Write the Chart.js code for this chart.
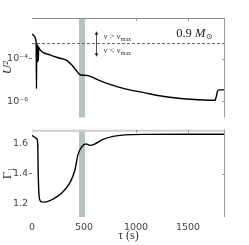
<!DOCTYPE html>
<html>
<head>
<meta charset="utf-8">
<script src="https://cdn.jsdelivr.net/npm/chart.js@4.4.1/dist/chart.umd.min.js"></script>
<style>
  body { margin: 0; background: #fff; }
  #wrap { position: relative; width: 249px; height: 245px; }
  canvas { position: absolute; left: 0; }
  #top { top: 0; }
  #bottom { top: 123px; }
</style>
</head>
<body>
<div id="wrap">
  <canvas id="top" width="249" height="124"></canvas>
  <canvas id="bottom" width="249" height="122"></canvas>
</div>
<script>
// time axis (s)
const xMax = 1856;
const xTicks = [0, 500, 1000, 1500];
const band = [452, 510]; // shaded interval

// upper panel: U^2
const tauU = [0, 19, 30, 38, 40, 43, 46, 49, 52, 55, 58, 61, 64, 67, 173, 250, 337, 385, 430, 462, 500, 538, 625, 721, 894, 1077, 1269, 1529, 1760, 1770, 1785, 1800, 1856];
const u2 = [1.45e-3, 1.17e-3, 1.0e-3, 6.9e-4, 6.0e-4, 3.8e-6, 5.0e-4, 6.6e-5, 4.5e-4, 7.0e-5, 4.0e-4, 8.0e-5, 3.5e-4, 3.1e-4, 1.5e-4, 1.1e-4, 8.1e-5, 4.9e-5, 2.6e-5, 1.74e-5, 1.65e-5, 1.58e-5, 1.05e-5, 6.9e-6, 3.8e-6, 2.5e-6, 1.66e-6, 1.23e-6, 1.1e-6, 1.5e-6, 3.0e-6, 3.4e-6, 3.4e-6];
const uTicks = [1e-6, 1e-4];
const uRange = [1.74e-7, 8.1e-3];
const dashLevel = 5.1e-4; // nu = nu_max

// lower panel: Gamma_1
const tauG = [0, 25, 45, 55, 60, 67, 80, 93, 125, 202, 286, 365, 413, 442, 478, 519, 558, 606, 683, 779, 894, 1100, 1500, 1856];
const gamma1 = [1.657, 1.645, 1.635, 1.60, 1.40, 1.26, 1.218, 1.211, 1.21, 1.23, 1.27, 1.34, 1.425, 1.528, 1.58, 1.60, 1.59, 1.60, 1.63, 1.65, 1.66, 1.664, 1.665, 1.665];
const gTicks = [1.2, 1.4, 1.6];
const gRange = [1.11, 1.695];

const tickFont = { family: 'DejaVu Sans', size: 9.5 };
const tickColor = '#444';
const sup = { '-': '\u207b', '0': '\u2070', '1': '\u00b9', '2': '\u00b2', '3': '\u00b3', '4': '\u2074', '5': '\u2075', '6': '\u2076', '7': '\u2077', '8': '\u2078', '9': '\u2079' };

function pow10Label(v) {
    const e = String(Math.round(Math.log10(v)));
    return '10' + e.split('').map(c => sup[c]).join('');
}

// band, spines and inward ticks
const frame = {
    id: 'frame',
    beforeDatasetsDraw(chart, args, opts) {
        const { ctx, chartArea: a, scales: { x } } = chart;
        const x0 = x.getPixelForValue(band[0]);
        const x1 = x.getPixelForValue(band[1]);
        ctx.save();
        ctx.fillStyle = '#b7c3bb';
        ctx.fillRect(x0, a.top, x1 - x0, a.bottom - a.top);
        ctx.restore();
    },
    afterDatasetsDraw(chart, args, opts) {
        const { ctx, chartArea: a, scales: { x, y } } = chart;
        ctx.save();
        ctx.strokeStyle = opts.topColor;
        ctx.lineWidth = opts.topWidth;
        ctx.beginPath();
        ctx.moveTo(a.left, a.top + opts.topWidth / 2);
        ctx.lineTo(a.right, a.top + opts.topWidth / 2);
        ctx.stroke();
        ctx.strokeStyle = '#999';
        ctx.lineWidth = 1;
        ctx.beginPath();
        ctx.moveTo(a.right - 0.5, a.top);
        ctx.lineTo(a.right - 0.5, a.bottom);
        opts.topTicks.forEach(v => {
            const px = Math.round(x.getPixelForValue(v)) + 0.5;
            ctx.moveTo(px, a.top);
            ctx.lineTo(px, a.top + 3);
        });
        opts.rightTicks.forEach(v => {
            const py = Math.round(y.getPixelForValue(v)) + 0.5;
            ctx.moveTo(a.right, py);
            ctx.lineTo(a.right - 3, py);
        });
        ctx.stroke();
        ctx.restore();
    }
};

// arrow, nu labels and mass label in the upper panel
const notes = {
    id: 'notes',
    afterDatasetsDraw(chart) {
        const { ctx, chartArea: a, scales: { x, y } } = chart;
        ctx.save();
        const ax = Math.round(x.getPixelForValue(612)) + 0.5;
        const ay0 = y.getPixelForValue(1.95e-3);
        const ay1 = y.getPixelForValue(1.23e-4);
        ctx.strokeStyle = '#222';
        ctx.fillStyle = '#222';
        ctx.lineWidth = 0.8;
        ctx.beginPath();
        ctx.moveTo(ax, ay0 + 2);
        ctx.lineTo(ax, ay1 - 2);
        ctx.stroke();
        ctx.beginPath();
        ctx.moveTo(ax, ay0);
        ctx.lineTo(ax - 1.8, ay0 + 3.5);
        ctx.lineTo(ax + 1.8, ay0 + 3.5);
        ctx.closePath();
        ctx.moveTo(ax, ay1);
        ctx.lineTo(ax - 1.8, ay1 - 3.5);
        ctx.lineTo(ax + 1.8, ay1 - 3.5);
        ctx.closePath();
        ctx.fill();

        const tx = x.getPixelForValue(690);
        [['\u03bd > \u03bd', 1.05e-3], ['\u03bd < \u03bd', 2.27e-4]].forEach(([txt, v]) => {
            const ty = y.getPixelForValue(v) + 2;
            ctx.textBaseline = 'alphabetic';
            ctx.textAlign = 'left';
            ctx.font = 'italic 8px "Liberation Serif"';
            ctx.fillStyle = '#333';
            ctx.fillText(txt, tx, ty);
            const w = ctx.measureText(txt).width;
            ctx.font = '6px "Liberation Serif"';
            ctx.fillText('max', tx + w + 0.5, ty + 2);
        });

        const by = a.top + 19;
        const f1 = '12.5px "Liberation Serif"';
        const f2 = 'italic 12.5px "Liberation Serif"';
        const f3 = '8px "DejaVu Sans"';
        ctx.fillStyle = '#222';
        ctx.font = f1; const w1 = ctx.measureText('0.9 ').width;
        ctx.font = f2; const w2 = ctx.measureText('M').width;
        ctx.font = f3; const w3 = ctx.measureText('\u2299').width;
        let sx = a.right - 13 - (w1 + w2 + w3);
        ctx.font = f1; ctx.fillText('0.9 ', sx, by); sx += w1;
        ctx.font = f2; ctx.fillText('M', sx, by); sx += w2 + 0.5;
        ctx.font = f3; ctx.fillText('\u2299', sx, by + 2);
        ctx.restore();
    }
};

const lineStyle = {
    borderColor: '#000',
    borderWidth: 1.4,
    pointRadius: 0,
    cubicInterpolationMode: 'monotone'
};

const baseOptions = {
    responsive: false,
    animation: false,
    events: [],
    plugins: { legend: { display: false }, tooltip: { enabled: false } }
};

new Chart(document.getElementById('top'), {
    type: 'line',
    data: {
        datasets: [
            { ...lineStyle, data: tauU.map((t, i) => ({ x: t, y: u2[i] })) },
            { data: [{ x: 0, y: dashLevel }, { x: xMax, y: dashLevel }], borderColor: '#444', borderWidth: 0.8, borderDash: [3, 2], pointRadius: 0 }
        ]
    },
    options: {
        ...baseOptions,
        layout: { padding: { top: 18, right: 24, left: 0, bottom: 1 } },
        plugins: {
            ...baseOptions.plugins,
            frame: { topColor: '#8c8c8c', topWidth: 1, topTicks: xTicks.slice(2), rightTicks: uTicks }
        },
        scales: {
            x: { type: 'linear', min: 0, max: xMax, display: false },
            y: {
                type: 'logarithmic',
                min: uRange[0],
                max: uRange[1],
                afterBuildTicks: s => { s.ticks = uTicks.map(v => ({ value: v })); },
                afterFit: s => { s.width = 32; },
                border: { display: false },
                grid: {
                    drawOnChartArea: false,
                    tickLength: 3,
                    color: c => (c.tick && c.tick.value === uTicks[1]) ? '#777' : 'rgba(0,0,0,0)'
                },
                ticks: { font: tickFont, color: tickColor, padding: 1, callback: v => pow10Label(v) },
                title: {
                    display: true,
                    text: 'U\u00b2',
                    font: { family: 'Liberation Serif', size: 13, style: 'italic' },
                    color: '#333',
                    padding: { top: 0, bottom: 0 }
                }
            }
        }
    },
    plugins: [frame, notes]
});

new Chart(document.getElementById('bottom'), {
    type: 'line',
    data: {
        datasets: [
            { ...lineStyle, data: tauG.map((t, i) => ({ x: t, y: gamma1[i] })) }
        ]
    },
    options: {
        ...baseOptions,
        layout: { padding: { top: 0, right: 24, left: 0, bottom: 0 } },
        plugins: {
            ...baseOptions.plugins,
            frame: { topColor: '#cfcfcf', topWidth: 2, topTicks: xTicks.slice(2), rightTicks: [gTicks[1]] }
        },
        scales: {
            x: {
                type: 'linear',
                min: 0,
                max: xMax,
                afterBuildTicks: s => { s.ticks = xTicks.map(v => ({ value: v })); },
                afterFit: s => { s.height = 28; },
                border: { display: false },
                grid: { display: false, drawTicks: false },
                ticks: { font: tickFont, color: tickColor, padding: 5, maxRotation: 0, autoSkip: false, callback: v => String(v) },
                title: {
                    display: true,
                    text: '\u03c4 (s)',
                    font: { family: 'Liberation Serif', size: 12 },
                    color: '#333',
                    padding: { top: 0, bottom: 2 }
                }
            },
            y: {
                type: 'linear',
                min: gRange[0],
                max: gRange[1],
                afterBuildTicks: s => { s.ticks = gTicks.map(v => ({ value: v })); },
                afterFit: s => { s.width = 32; },
                border: { display: false },
                grid: {
                    drawOnChartArea: false,
                    tickLength: 3,
                    color: c => (c.tick && c.tick.value === gTicks[1]) ? '#777' : 'rgba(0,0,0,0)'
                },
                ticks: { font: tickFont, color: tickColor, padding: 1, callback: v => v.toFixed(1) },
                title: {
                    display: true,
                    text: '\u0393\u2081',
                    font: { family: 'Liberation Serif', size: 13 },
                    color: '#333',
                    padding: { top: 0, bottom: 0 }
                }
            }
        }
    },
    plugins: [frame]
});
</script>
</body>
</html>
